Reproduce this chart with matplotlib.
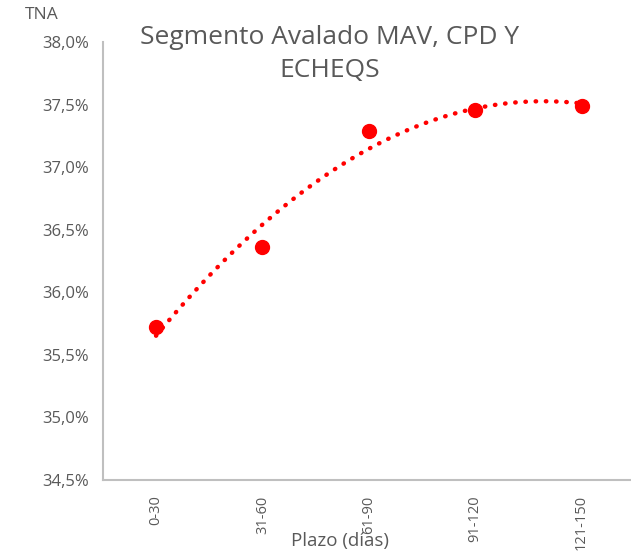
import matplotlib
matplotlib.use("Agg")
import matplotlib.pyplot as plt
import numpy as np
from matplotlib.ticker import FuncFormatter

categories = ["0-30", "31-60", "61-90", "91-120", "121-150"]
tna = [35.72, 36.36, 37.29, 37.46, 37.49]
yticks = [34.5, 35.0, 35.5, 36.0, 36.5, 37.0, 37.5, 38.0]

plt.rcParams['font.family'] = ['Open Sans', 'DejaVu Sans']
gray = '#595959'

fig = plt.figure(figsize=(6.31, 5.54), dpi=100)
ax = fig.add_axes([0.163, 0.1336, 0.843, 0.7904])

x = np.arange(len(categories))
coef = np.polyfit(x, tna, 2)
xs = np.linspace(0, len(categories) - 1, 200)
ax.plot(xs, np.polyval(coef, xs), color='#FF0000', lw=3.2,
        linestyle=(0, (0.1, 2.2)), dash_capstyle='round', zorder=2)
ax.plot(x, tna, 'o', color='#FF0000', markersize=10, zorder=3)

ax.set_xlim(-0.5, len(categories) - 0.5)
ax.set_ylim(34.5, 38.0)
ax.set_yticks(yticks)
ax.yaxis.set_major_formatter(FuncFormatter(lambda v, p: f"{v:.1f}%".replace('.', ',')))
ax.set_xticks(x)
ax.set_xticklabels(categories, rotation=90, va='top')
ax.tick_params(axis='both', length=0, colors=gray, labelsize=12)
ax.tick_params(axis='x', pad=11, labelsize=10.5)
ax.tick_params(axis='y', pad=10)

for s in ['top', 'right']:
    ax.spines[s].set_visible(False)
for s in ['left', 'bottom']:
    ax.spines[s].set_color('#BFBFBF')
    ax.spines[s].set_linewidth(1.5)

fig.text(42/631, 1 - 15/554, "TNA", ha='center', va='center', color=gray, fontsize=12.5)
fig.text(330/631, 1 - 54/554, "Segmento Avalado MAV, CPD Y\nECHEQS", ha='center', va='center',
         color=gray, fontsize=19, linespacing=1.45)
fig.text(340/631, 1 - 541/554, "Plazo (días)", ha='center', va='center', color=gray, fontsize=13.5)

fig.savefig("out.png", dpi=100)
